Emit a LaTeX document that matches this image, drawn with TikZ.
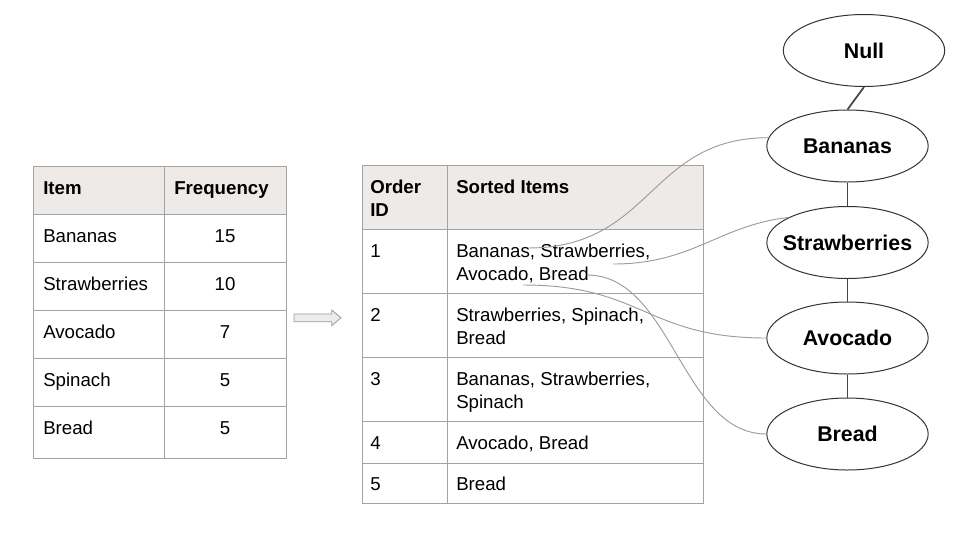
\documentclass[tikz,border=0pt]{standalone}
\usepackage{fontspec}
\setmainfont{Liberation Sans}
\usetikzlibrary{shapes.geometric}
\definecolor{gridc}{HTML}{A3A3A3}
\definecolor{headc}{HTML}{EEEAE7}
\definecolor{curvec}{HTML}{A09A9A}
\definecolor{arrowf}{HTML}{EDEBEB}
\definecolor{linkc}{HTML}{444444}
\tikzset{
  cell/.style={anchor=base west,inner sep=0pt,font=\fontsize{14}{17}\selectfont},
  cellc/.style={anchor=base,inner sep=0pt,font=\fontsize{14}{17}\selectfont},
  headcell/.style={cell,font=\fontsize{14}{17}\selectfont\bfseries},
  grid/.style={draw=gridc,line width=0.75pt},
  treenode/.style={ellipse,draw=black!80,line width=0.75pt,minimum width=121pt,minimum height=54pt,inner xsep=-30pt,inner ysep=-8pt,font=\fontsize{16}{19}\selectfont\bfseries},
  treelink/.style={draw=linkc,line width=1.3pt},
  itemcurve/.style={draw=curvec,line width=0.7pt}
}
\begin{document}
\begin{tikzpicture}[x=0.75pt,y=-0.75pt]
\useasboundingbox (0,0) rectangle (960,540);
% ---------- left table ----------
\fill[headc] (33,166) rectangle (286,214);
\draw[grid] (33,166) rectangle (286,458);
\foreach \yy in {214,262,310,358,406} \draw[grid] (33,\yy) -- (286,\yy);
\draw[grid] (164,166) -- (164,458);
\node[headcell] (hItem) at (43,194) {Item};
\node[headcell] (hFreq) at (174,194) {Frequency};
\node[cell] (iBan) at (43,242) {Bananas};
\node[cell] (iStr) at (43,290) {Strawberries};
\node[cell] (iAvo) at (43,338) {Avocado};
\node[cell] (iSpi) at (43,386) {Spinach};
\node[cell] (iBre) at (43,434) {Bread};
\node[cellc] (fBan) at (225,242) {15};
\node[cellc] (fStr) at (225,290) {10};
\node[cellc] (fAvo) at (225,338) {7};
\node[cellc] (fSpi) at (225,386) {5};
\node[cellc] (fBre) at (225,434) {5};
% ---------- arrow ----------
\draw[draw=gray!80,fill=arrowf,line width=0.6pt]
  (294,314) -- (331.7,314) -- (331.7,310) -- (341,317.8) -- (331.7,325.7) -- (331.7,321.7) -- (294,321.7) -- cycle;
% ---------- middle table ----------
\fill[headc] (362,165) rectangle (703,229);
\draw[grid] (362,165) rectangle (703,503);
\foreach \yy in {229,293,357,421,463} \draw[grid] (362,\yy) -- (703,\yy);
\draw[grid] (447,165) -- (447,503);
\node[headcell] (hOrd) at (370,193) {Order};
\node[headcell] (hID) at (370,216) {ID};
\node[headcell] (hSort) at (456,193) {Sorted Items};
\node[cell] (o1) at (370,257) {1};
\node[cell] (s1a) at (456,257) {Bananas, Strawberries,};
\node[cell] (s1b) at (456,280) {Avocado, Bread};
\node[cell] (o2) at (370,321) {2};
\node[cell] (s2a) at (456,321) {Strawberries, Spinach,};
\node[cell] (s2b) at (456,344) {Bread};
\node[cell] (o3) at (370,385) {3};
\node[cell] (s3a) at (456,385) {Bananas, Strawberries,};
\node[cell] (s3b) at (456,408) {Spinach};
\node[cell] (o4) at (370,449) {4};
\node[cell] (s4) at (456,449) {Avocado, Bread};
\node[cell] (o5) at (370,490) {5};
\node[cell] (s5) at (456,490) {Bread};
% ---------- tree ----------
\node[treenode] (null) at (864,50.5) {Null};
\node[treenode] (ban) at (847.5,146) {Bananas};
\node[treenode] (str) at (847.5,242.5) {Strawberries};
\node[treenode] (avo) at (847.5,338) {Avocado};
\node[treenode] (bre) at (847.5,434) {Bread};
\draw[treelink] (null.south) -- (ban.north);
\draw[treelink] (ban.south) -- (str.north);
\draw[treelink] (str.south) -- (avo.north);
\draw[treelink] (avo.south) -- (bre.north);
% ---------- curves ----------
\coordinate (c1) at (528,248);
\coordinate (c2) at (613,264);
\coordinate (c3) at (523,285);
\coordinate (c4) at (587,275);
\draw[itemcurve] (c1) .. controls +(125,0) and +(-120,0) .. (ban.174);
\draw[itemcurve] (c2) .. controls +(80,0) and +(-70,8) .. (str.157);
\draw[itemcurve] (c3) .. controls +(120,0) and +(-120,0) .. (avo.west);
\draw[itemcurve] (c4) .. controls +(85,0) and +(-85,0) .. (bre.west);
\end{tikzpicture}
\end{document}
